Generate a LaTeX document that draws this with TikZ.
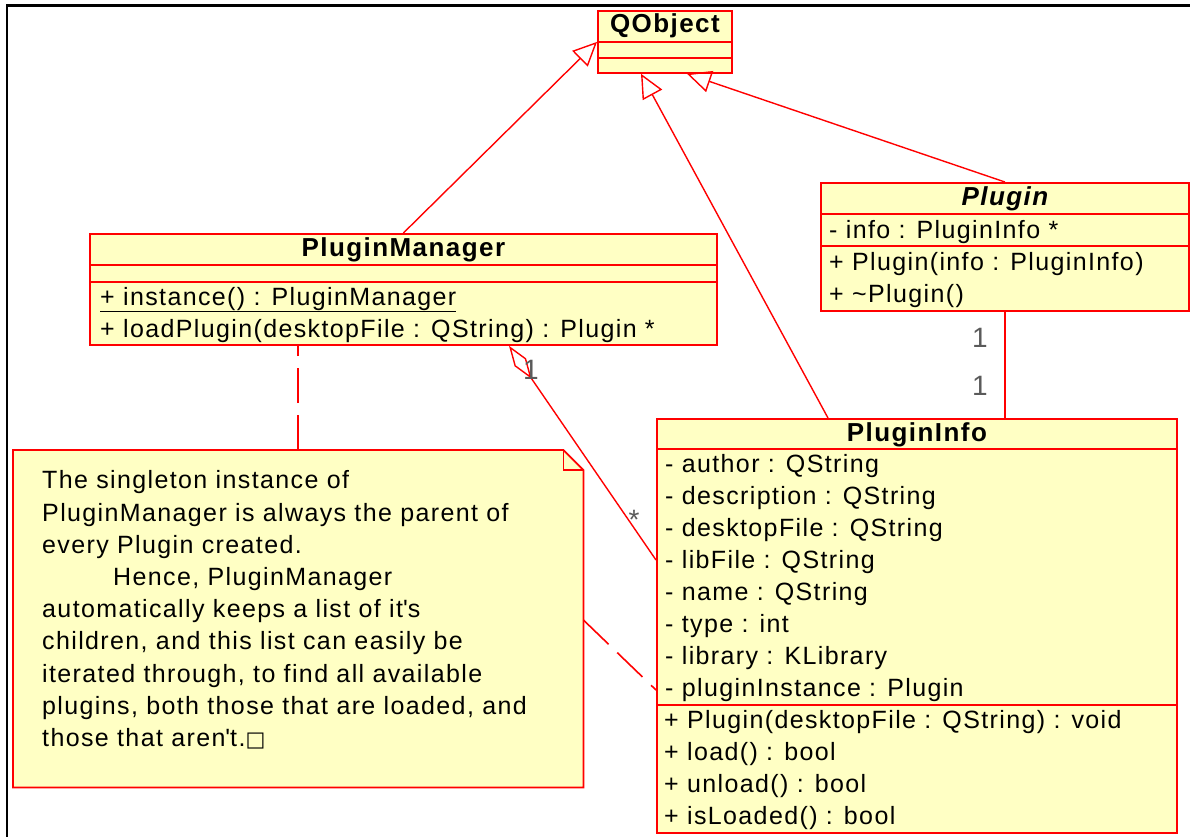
\documentclass[tikz,border=0pt]{standalone}
\usepackage{fontspec}
\setmainfont{Liberation Sans}[LetterSpace=5.5]
\newfontfamily\symfont{DejaVu Sans}
\usetikzlibrary{arrows.meta,calc,positioning}
\definecolor{umlfill}{RGB}{255,255,196}
\definecolor{umlred}{RGB}{255,0,0}
\definecolor{multgray}{RGB}{90,90,90}
\tikzset{
    classbox/.style={draw=umlred, fill=umlfill, line width=1.8pt, anchor=north west, inner sep=0pt},
    classname/.style={font=\fontsize{26}{30}\selectfont\bfseries, anchor=base, inner sep=0pt},
    member/.style={font=\fontsize{25}{32}\selectfont, anchor=base west, inner sep=0pt},
    sep/.style={draw=umlred, line width=1.8pt},
    inherit/.style={-{Triangle[open, length=24pt, width=22pt]}, umlred, line width=1.4pt},
    aggr/.style={{Diamond[open, length=40pt, width=14pt]}-, umlred, line width=1.4pt},
    assoc/.style={umlred, line width=1.6pt},
    notelink/.style={umlred, line width=1.6pt, dash pattern=on 35pt off 12pt},
    mult/.style={font=\fontsize{28}{30}\selectfont, text=multgray, inner sep=0pt}
}

\begin{document}
\begin{tikzpicture}[x=1pt, y=-1pt]
    \useasboundingbox (0,0) rectangle (1190,837);
    % frame
    \draw[line width=2.6pt] (7,837) |- (1190,5.5);

    % QObject
    \node[classbox, minimum width=134pt, minimum height=62pt] (qobj) at (597,10) {};
    \node[classname] (qobj-name) at ($(qobj.north)+(0,23)$) {QObject};
    \draw[sep] ($(qobj.north west)+(0,32)$) -- ($(qobj.north east)+(0,32)$);
    \draw[sep] ($(qobj.north west)+(0,48)$) -- ($(qobj.north east)+(0,48)$);

    % PluginManager
    \node[classbox, minimum width=627pt, minimum height=111pt] (pm) at (89,233) {};
    \node[classname] (pm-name) at ($(pm.north)+(0,23)$) {PluginManager};
    \draw[sep] ($(pm.north west)+(0,32)$) -- ($(pm.north east)+(0,32)$);
    \draw[sep] ($(pm.north west)+(0,49)$) -- ($(pm.north east)+(0,49)$);
    \node[member] (pm-m1) at ($(pm.north west)+(11,72)$) {\underline{+ instance() : PluginManager}};
    \node[member] (pm-m2) at ($(pm.north west)+(11,104)$) {+ loadPlugin(desktopFile : QString) : Plugin *};

    % Plugin (abstract)
    \node[classbox, minimum width=368pt, minimum height=128pt] (plugin) at (820,182) {};
    \node[classname, font=\fontsize{26}{30}\selectfont\bfseries\itshape] (plugin-name) at ($(plugin.north)+(0,23)$) {Plugin};
    \draw[sep] ($(plugin.north west)+(0,32)$) -- ($(plugin.north east)+(0,32)$);
    \draw[sep] ($(plugin.north west)+(0,64)$) -- ($(plugin.north east)+(0,64)$);
    \node[member] (plugin-a1) at ($(plugin.north west)+(9,56)$) {- info : PluginInfo *};
    \node[member] (plugin-m1) at ($(plugin.north west)+(9,88)$) {+ Plugin(info : PluginInfo)};
    \node[member] (plugin-m2) at ($(plugin.north west)+(9,120)$) {+ \textasciitilde Plugin()};

    % PluginInfo
    \node[classbox, minimum width=520pt, minimum height=414pt] (pinfo) at (656,418) {};
    \node[classname] (pinfo-name) at ($(pinfo.north)+(0,23)$) {PluginInfo};
    \draw[sep] ($(pinfo.north west)+(0,31)$) -- ($(pinfo.north east)+(0,31)$);
    \draw[sep] ($(pinfo.north west)+(0,287)$) -- ($(pinfo.north east)+(0,287)$);
    \foreach \txt [count=\i] in {- author : QString, - description : QString,
        - desktopFile : QString, - libFile : QString, - name : QString,
        - type : int, - library : KLibrary, - pluginInstance : Plugin}
        \node[member] (pinfo-a\i) at ($(pinfo.north west)+(9,22+32*\i)$) {\txt};
    \foreach \txt [count=\i] in {+ Plugin(desktopFile : QString) : void,
        + load() : bool, + unload() : bool, + isLoaded() : bool}
        \node[member] (pinfo-m\i) at ($(pinfo.north west)+(8,278+32*\i)$) {\txt};

    % note
    \node[minimum width=570pt, minimum height=337pt, anchor=north west, inner sep=0pt] (note) at (13,450) {};
    \draw[umlred, fill=umlfill, line width=1.8pt] (note.north west) -- ($(note.north east)+(-20,0)$)
        -- ($(note.north east)+(0,20)$) -- (note.south east) -- (note.south west) -- cycle;
    \draw[umlred, line width=1.6pt] ($(note.north east)+(-20,0)$) |- ($(note.north east)+(0,20)$);
    \node[anchor=north west, inner sep=0pt, align=left, font=\fontsize{25}{32.2}\selectfont] (note-text)
        at ($(note.north west)+(29,20.5)$)
        {The singleton instance of\\
         PluginManager is always the parent of\\
         every Plugin created.\\
         \hspace*{71pt}Hence, PluginManager\\
         automatically keeps a list of it\textquotesingle s\\
         children, and this list can easily be\\
         iterated through, to find all available\\
         plugins, both those that are loaded, and\\
         those that aren\textquotesingle t.{\symfont\addfontfeature{LetterSpace=0}\fontsize{21}{22}\selectfont□}};

    % generalizations
    \draw[inherit] (pm.north) -- (qobj.west);
    \draw[inherit] ($(pinfo.north west)+(172,0)$) -- ($(qobj.south west)+(44,0)$);
    \draw[inherit] (plugin.north) -- ($(qobj.south west)+(90,0)$);

    % associations
    \draw[assoc] (plugin.south) -- (plugin.south |- pinfo.north);
    \node[mult] (m-plugin) at (980,338) {1};
    \node[mult] (m-pinfo) at (980,386) {1};
    \draw[aggr] ($(pm.south west)+(420,0)$) -- ($(pinfo.north west)+(0,142)$);
    \node[mult] (m-pm) at (531,370) {1};
    \node[mult] (m-many) at (634,520) {*};

    % note links
    \draw[notelink] (note.north) -- (note.north |- pm.south);
    \draw[notelink] ($(note.north east)+(0,170)$) -- ($(pinfo.north west)+(0,272)$);
\end{tikzpicture}
\end{document}
